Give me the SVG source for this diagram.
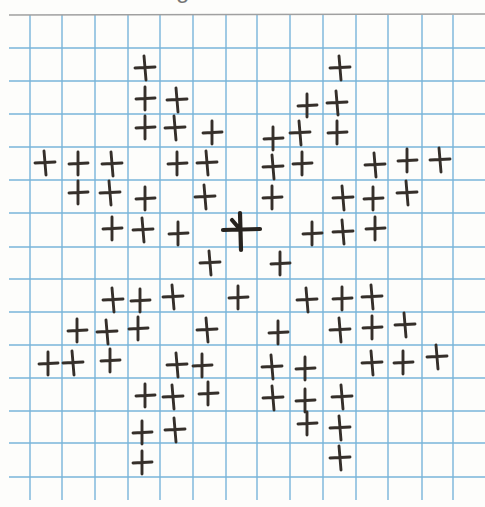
<svg xmlns="http://www.w3.org/2000/svg" width="485" height="507" viewBox="0 0 485 507">
<defs>
<style>
.grid line{stroke:#78b4da;stroke-width:1.4}
.edge{stroke:#a0a0a0;stroke-width:1.5}
.x{fill:none;stroke:#352f2a;stroke-width:2.9;stroke-linecap:round}
.big{fill:none;stroke:#27231f;stroke-width:4.2;stroke-linecap:round}
</style>
<path id="c" class="x" d="M-1,-12 L1,12 M-10,0 L10,-1"/>
<path id="d" class="x" d="M0,-11 L0,12 M-9,1 L10,0"/>
</defs>
<rect width="485" height="507" fill="#fdfdfb"/>
<text x="176" y="-2" font-family="Liberation Sans, sans-serif" font-size="24" fill="#777">g</text>
<g class="grid">
<line x1="30" y1="15" x2="30" y2="500"/>
<line x1="62" y1="15" x2="62" y2="500"/>
<line x1="95" y1="15" x2="95" y2="500"/>
<line x1="128" y1="15" x2="128" y2="500"/>
<line x1="160" y1="15" x2="160" y2="500"/>
<line x1="193" y1="15" x2="193" y2="500"/>
<line x1="226" y1="15" x2="226" y2="500"/>
<line x1="257" y1="15" x2="257" y2="500"/>
<line x1="290" y1="15" x2="290" y2="500"/>
<line x1="323" y1="15" x2="323" y2="500"/>
<line x1="356" y1="15" x2="356" y2="500"/>
<line x1="388" y1="15" x2="388" y2="500"/>
<line x1="422" y1="15" x2="422" y2="500"/>
<line x1="453" y1="15" x2="453" y2="500"/>
<line x1="9" y1="48" x2="485" y2="48"/>
<line x1="9" y1="81" x2="485" y2="81"/>
<line x1="9" y1="114" x2="485" y2="114"/>
<line x1="9" y1="147" x2="485" y2="147"/>
<line x1="9" y1="180" x2="485" y2="180"/>
<line x1="9" y1="213" x2="485" y2="213"/>
<line x1="9" y1="247" x2="485" y2="247"/>
<line x1="9" y1="279" x2="485" y2="279"/>
<line x1="9" y1="312" x2="485" y2="312"/>
<line x1="9" y1="345" x2="485" y2="345"/>
<line x1="9" y1="378" x2="485" y2="378"/>
<line x1="9" y1="411" x2="485" y2="411"/>
<line x1="9" y1="443" x2="485" y2="443"/>
<line x1="9" y1="477" x2="485" y2="477"/>
</g>
<line class="edge" x1="9" y1="15" x2="485" y2="14"/>
<g id="crosses">
<use href="#c" x="145" y="68"/>
<use href="#d" x="145" y="98"/>
<use href="#c" x="177" y="100"/>
<use href="#d" x="145" y="127"/>
<use href="#c" x="175" y="128"/>
<use href="#d" x="212" y="132"/>
<use href="#c" x="45" y="163"/>
<use href="#d" x="78" y="163"/>
<use href="#c" x="112" y="164"/>
<use href="#d" x="177" y="163"/>
<use href="#c" x="207" y="163"/>
<use href="#d" x="78" y="192"/>
<use href="#c" x="110" y="193"/>
<use href="#d" x="145" y="198"/>
<use href="#c" x="205" y="197"/>
<use href="#d" x="112" y="228"/>
<use href="#c" x="143" y="230"/>
<use href="#d" x="178" y="233"/>
<use href="#c" x="340" y="68"/>
<use href="#d" x="307" y="105"/>
<use href="#c" x="337" y="103"/>
<use href="#d" x="273" y="138"/>
<use href="#c" x="300" y="133"/>
<use href="#d" x="337" y="132"/>
<use href="#c" x="273" y="167"/>
<use href="#d" x="302" y="163"/>
<use href="#c" x="375" y="165"/>
<use href="#d" x="407" y="160"/>
<use href="#c" x="440" y="160"/>
<use href="#d" x="272" y="197"/>
<use href="#c" x="343" y="198"/>
<use href="#d" x="373" y="198"/>
<use href="#c" x="407" y="193"/>
<use href="#d" x="312" y="233"/>
<use href="#c" x="343" y="232"/>
<use href="#d" x="375" y="228"/>
<use href="#c" x="210" y="263"/>
<use href="#d" x="280" y="263"/>
<use href="#c" x="113" y="300"/>
<use href="#d" x="140" y="300"/>
<use href="#c" x="173" y="297"/>
<use href="#d" x="238" y="297"/>
<use href="#c" x="307" y="300"/>
<use href="#d" x="342" y="298"/>
<use href="#c" x="372" y="297"/>
<use href="#d" x="77" y="330"/>
<use href="#c" x="107" y="332"/>
<use href="#d" x="138" y="328"/>
<use href="#c" x="207" y="330"/>
<use href="#d" x="278" y="332"/>
<use href="#c" x="340" y="330"/>
<use href="#d" x="372" y="327"/>
<use href="#c" x="405" y="325"/>
<use href="#d" x="48" y="363"/>
<use href="#c" x="73" y="363"/>
<use href="#d" x="110" y="360"/>
<use href="#c" x="177" y="365"/>
<use href="#d" x="202" y="365"/>
<use href="#c" x="272" y="367"/>
<use href="#d" x="305" y="368"/>
<use href="#c" x="372" y="363"/>
<use href="#d" x="403" y="362"/>
<use href="#c" x="437" y="357"/>
<use href="#d" x="145" y="395"/>
<use href="#c" x="173" y="397"/>
<use href="#d" x="208" y="393"/>
<use href="#c" x="273" y="398"/>
<use href="#d" x="305" y="400"/>
<use href="#c" x="342" y="397"/>
<use href="#d" x="142" y="432"/>
<use href="#c" x="175" y="430"/>
<use href="#d" x="307" y="423"/>
<use href="#c" x="340" y="428"/>
<use href="#d" x="142" y="462"/>
<use href="#c" x="340" y="458"/>
<path class="big" d="M240,213 L241,250 M223,230 L260,229 M232,220 L238,227"/>
</g>
</svg>
